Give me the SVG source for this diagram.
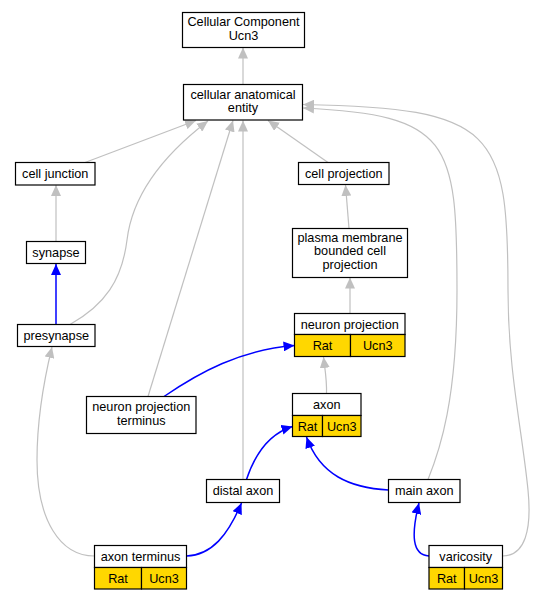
<svg xmlns="http://www.w3.org/2000/svg" width="538" height="600" viewBox="0 0 538 600">
<style>
.n{fill:#fff;stroke:#000;stroke-width:1.2}
.g{fill:#ffd700;stroke:#000;stroke-width:1.2}
.t{font-family:"Liberation Sans",Arial,sans-serif;font-size:12.7px;fill:#000;text-anchor:middle}
.e{fill:none;stroke:#c0c0c0;stroke-width:1.2;marker-end:url(#ag)}
.b{fill:none;stroke:#0000ff;stroke-width:1.5;marker-end:url(#ab)}
</style>
<defs>
<marker id="ag" markerUnits="userSpaceOnUse" markerWidth="12" markerHeight="10" refX="11" refY="5" orient="auto"><path d="M0,0 L11,5 L0,10 z" fill="#c0c0c0"/></marker>
<marker id="ab" markerUnits="userSpaceOnUse" markerWidth="12" markerHeight="10" refX="11" refY="5" orient="auto"><path d="M0,0 L11,5 L0,10 z" fill="#0000ff"/></marker>
</defs>
<rect width="538" height="600" fill="#fff"/>
<g id="edges">
<path class="e" d="M243,84.5 L243,47.5"/>
<path class="e" d="M85,162.5 L196,120.5"/>
<path class="e" d="M70,324.5 C105,305 122,280 127,240 C133,190 170,150 208,121"/>
<path class="e" d="M148,396.5 L233,120.5"/>
<path class="e" d="M243,479.5 L243,120.5"/>
<path class="e" d="M328,162.5 L268,120.5"/>
<path class="e" d="M428,479.5 C440,450 457,400 457,290 C457,140 450,115 303,108"/>
<path class="e" d="M502.5,556 C525,556 532,530 528,490 C522,430 508,370 508,290 C508,130 495,108 303,104.5"/>
<path class="e" d="M56,241.5 L56,185"/>
<path class="b" d="M56,324.5 L56,264"/>
<path class="e" d="M349,228.5 L345.5,185"/>
<path class="e" d="M350,313.5 L350,277.5"/>
<path class="e" d="M326.5,393.5 C327,380 325,370 323.5,357"/>
<path class="b" d="M164,396.5 C200,372 240,350 294.5,345.5"/>
<path class="b" d="M246.5,479.5 C253,460 265,435 292.5,426.5"/>
<path class="b" d="M388.5,490 C350,488 320,475 306.5,437"/>
<path class="b" d="M186.5,556 C212,555 228,535 241.5,503"/>
<path class="b" d="M429,556 C412,555 411,535 419,503"/>
<path class="e" d="M94.5,556 C60,556 37,520 37,460 C37,420 44,380 52,347"/>
</g>
<g id="cellular_component_ucn3"><rect class="n" x="182.5" y="12.5" width="122" height="35"/><text class="t" x="243.5" y="26">Cellular Component</text><text class="t" x="243.5" y="39.5">Ucn3</text></g>
<g id="cellular_anatomical_entity"><rect class="n" x="183.5" y="84.5" width="119" height="35.5"/><text class="t" x="243" y="98.5">cellular anatomical</text><text class="t" x="243" y="112">entity</text></g>
<g id="cell_junction"><rect class="n" x="15.5" y="162.5" width="79.5" height="22.5"/><text class="t" x="55.25" y="177.8">cell junction</text></g>
<g id="synapse"><rect class="n" x="26.5" y="241.5" width="59" height="22"/><text class="t" x="56" y="256.5">synapse</text></g>
<g id="presynapse"><rect class="n" x="17.5" y="324.5" width="77.5" height="22"/><text class="t" x="56.25" y="339.5">presynapse</text></g>
<g id="cell_projection"><rect class="n" x="298.5" y="162.5" width="90.5" height="22"/><text class="t" x="343.75" y="177.5">cell projection</text></g>
<g id="plasma_membrane_bounded_cell_projection"><rect class="n" x="292.5" y="228.5" width="115" height="49"/><text class="t" x="350" y="241.5">plasma membrane</text><text class="t" x="350" y="255">bounded cell</text><text class="t" x="350" y="268.5">projection</text></g>
<g id="neuron_projection"><rect class="n" x="294.5" y="313.5" width="110.5" height="21"/><rect class="g" x="294.5" y="334.5" width="56" height="22"/><rect class="g" x="350.5" y="334.5" width="54.5" height="22"/><text class="t" x="349.75" y="328.5">neuron projection</text><text class="t" x="322.5" y="350">Rat</text><text class="t" x="377.75" y="350">Ucn3</text></g>
<g id="neuron_projection_terminus"><rect class="n" x="86.5" y="396.5" width="109.5" height="37"/><text class="t" x="141.25" y="411">neuron projection</text><text class="t" x="141.25" y="424.5">terminus</text></g>
<g id="axon"><rect class="n" x="292.5" y="393.5" width="68.5" height="22"/><rect class="g" x="292.5" y="415.5" width="30" height="21"/><rect class="g" x="322.5" y="415.5" width="38.5" height="21"/><text class="t" x="326.75" y="408.5">axon</text><text class="t" x="307.5" y="430.5">Rat</text><text class="t" x="341.75" y="430.5">Ucn3</text></g>
<g id="distal_axon"><rect class="n" x="206.5" y="479.5" width="73" height="23"/><text class="t" x="243" y="495">distal axon</text></g>
<g id="main_axon"><rect class="n" x="388.5" y="479.5" width="71.5" height="23"/><text class="t" x="424.25" y="495">main axon</text></g>
<g id="axon_terminus"><rect class="n" x="94.5" y="545.5" width="92" height="22"/><rect class="g" x="94.5" y="567.5" width="47" height="21.5"/><rect class="g" x="141.5" y="567.5" width="45" height="21.5"/><text class="t" x="140.5" y="560.5">axon terminus</text><text class="t" x="118" y="582.5">Rat</text><text class="t" x="164" y="582.5">Ucn3</text></g>
<g id="varicosity"><rect class="n" x="429" y="545.5" width="73.5" height="22"/><rect class="g" x="429" y="567.5" width="35.5" height="21.5"/><rect class="g" x="464.5" y="567.5" width="38" height="21.5"/><text class="t" x="465.75" y="560.5">varicosity</text><text class="t" x="446.75" y="582.5">Rat</text><text class="t" x="483.5" y="582.5">Ucn3</text></g>
</svg>
